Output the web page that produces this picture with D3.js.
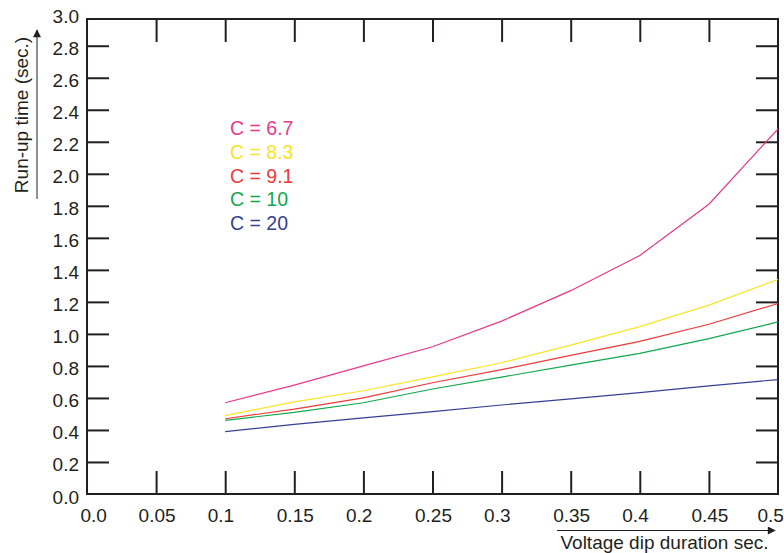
<!DOCTYPE html>
<html>
<head>
<meta charset="utf-8">
<script src="https://cdn.jsdelivr.net/npm/d3@7"></script>
<style>
  html, body { margin: 0; padding: 0; background: #fff; }
  svg { display: block; }
  text { font-family: "Liberation Sans", Arial, sans-serif; fill: #231f20; }
</style>
</head>
<body>
<svg id="chart" width="784" height="553"></svg>
<script>
// ---- data ----
const xValues = [0.1, 0.15, 0.2, 0.25, 0.3, 0.35, 0.4, 0.45, 0.5];
const seriesNames = ["C = 6.7", "C = 8.3", "C = 9.1", "C = 10", "C = 20"];
const c67 = [0.57, 0.68, 0.80, 0.92, 1.08, 1.27, 1.49, 1.81, 2.28];
const c83 = [0.49, 0.575, 0.645, 0.732, 0.82, 0.93, 1.045, 1.18, 1.34];
const c91 = [0.47, 0.53, 0.60, 0.695, 0.777, 0.866, 0.953, 1.06, 1.19];
const c10 = [0.46, 0.51, 0.57, 0.656, 0.73, 0.805, 0.878, 0.97, 1.075];
const c20 = [0.39, 0.435, 0.475, 0.515, 0.556, 0.594, 0.633, 0.675, 0.715];
const seriesColors = ["#e8388a", "#f9e425", "#ee3b39", "#12a84f", "#353f95"];
const xTickValues = [0.0, 0.05, 0.1, 0.15, 0.2, 0.25, 0.3, 0.35, 0.4, 0.45, 0.5];
const xTickLabels = ["0.0", "0.05", "0.1", "0.15", "0.2", "0.25", "0.3", "0.35", "0.4", "0.45", "0.5"];
const yTickValues = [0.0, 0.2, 0.4, 0.6, 0.8, 1.0, 1.2, 1.4, 1.6, 1.8, 2.0, 2.2, 2.4, 2.6, 2.8, 3.0];
const xTitle = "Voltage dip duration sec.";
const yTitle = "Run-up time (sec.)";

// ---- layout ----
const svg = d3.select("#chart");
const left = 87, right = 778, bottom = 494, frameTop = 19;
const x = d3.scaleLinear().domain([0, 0.5]).range([left, right]);
const y = d3.scaleLinear().domain([0, 3.0]).range([bottom, 13.7]);
const ink = "#231f20";
const fontSize = 19;

// inner tick values (exclude ends that coincide with frame)
const xInner = xTickValues.filter(v => v > 0 && v < 0.5);
const yInner = yTickValues.filter(v => v > 0 && v < 3.0);

function styleTicks(g) {
  g.select(".domain").remove();
  g.selectAll("line").attr("stroke", ink).attr("stroke-width", 2);
  g.selectAll("text").remove();
}

// bottom ticks pointing up
svg.append("g").attr("transform", `translate(0,${bottom})`)
  .call(d3.axisTop(x).tickValues(xInner).tickSize(23)).call(styleTicks);
// top ticks pointing down
svg.append("g").attr("transform", `translate(0,${frameTop})`)
  .call(d3.axisBottom(x).tickValues(xInner).tickSize(23)).call(styleTicks);
// left ticks pointing right
svg.append("g").attr("transform", `translate(${left},0)`)
  .call(d3.axisRight(y).tickValues(yInner).tickSize(22)).call(styleTicks);
// right ticks pointing left
svg.append("g").attr("transform", `translate(${right},0)`)
  .call(d3.axisLeft(y).tickValues(yInner).tickSize(22)).call(styleTicks);

// frame
svg.append("rect")
  .attr("x", left).attr("y", frameTop)
  .attr("width", right - left).attr("height", bottom - frameTop)
  .attr("fill", "none").attr("stroke", ink).attr("stroke-width", 2);

// x tick labels
const xAxisLabels = svg.append("g").attr("transform", `translate(0,${bottom})`)
  .call(d3.axisBottom(x).tickValues(xTickValues).tickSize(0).tickPadding(0)
    .tickFormat((d, i) => xTickLabels[i]));
xAxisLabels.select(".domain").remove();
xAxisLabels.selectAll("text")
  .attr("font-size", fontSize)
  .attr("font-family", "Liberation Sans, Arial, sans-serif")
  .attr("fill", ink)
  .attr("dy", null)
  .attr("y", 27.5)
  .attr("text-anchor", "start")
  .attr("dx", (d, i) => i === 0 ? -7 : (i === xTickValues.length - 1 ? -21 : -18));

// y tick labels
const yAxisLabels = svg.append("g").attr("transform", `translate(${left},0)`)
  .call(d3.axisLeft(y).tickValues(yTickValues).tickSize(0).tickPadding(8)
    .tickFormat(d3.format(".1f")));
yAxisLabels.select(".domain").remove();
yAxisLabels.selectAll("text")
  .attr("font-size", fontSize)
  .attr("font-family", "Liberation Sans, Arial, sans-serif")
  .attr("fill", ink)
  .attr("dy", null)
  .attr("y", 9);

// series lines
const allSeries = [c67, c83, c91, c10, c20];
const line = d3.line().x(d => x(d[0])).y(d => y(d[1]));
allSeries.forEach((vals, i) => {
  svg.append("path")
    .datum(xValues.map((xv, j) => [xv, vals[j]]))
    .attr("d", line)
    .attr("fill", "none")
    .attr("stroke", seriesColors[i])
    .attr("stroke-width", 1.2);
});

// legend
const legend = svg.append("g");
seriesNames.forEach((name, i) => {
  legend.append("text")
    .attr("x", 230)
    .attr("y", 135 + i * 23.8)
    .attr("font-size", 19.5)
    .style("fill", seriesColors[i])
    .text(name);
});

// arrow marker
const defs = svg.append("defs");
defs.append("marker")
  .attr("id", "arrow")
  .attr("viewBox", "0 0 10 10")
  .attr("refX", 9).attr("refY", 5)
  .attr("markerWidth", 10).attr("markerHeight", 8)
  .attr("markerUnits", "userSpaceOnUse")
  .attr("orient", "auto")
  .append("path").attr("d", "M0,0 L10,5 L0,10 Z").attr("fill", ink);

// y title + arrow
svg.append("text")
  .attr("transform", "translate(28,115) rotate(-90)")
  .attr("text-anchor", "middle")
  .attr("font-size", fontSize)
  .text(yTitle);
svg.append("line")
  .attr("x1", 37).attr("y1", 199).attr("x2", 37).attr("y2", 30)
  .attr("stroke", ink).attr("stroke-width", 1)
  .attr("marker-end", "url(#arrow)");

// x title + arrow
svg.append("text")
  .attr("x", 664.5).attr("y", 548.5)
  .attr("text-anchor", "middle")
  .attr("font-size", fontSize)
  .text(xTitle);
svg.append("line")
  .attr("x1", 557).attr("y1", 530.5).attr("x2", 775).attr("y2", 530.5)
  .attr("stroke", ink).attr("stroke-width", 1)
  .attr("marker-end", "url(#arrow)");
</script>
</body>
</html>
